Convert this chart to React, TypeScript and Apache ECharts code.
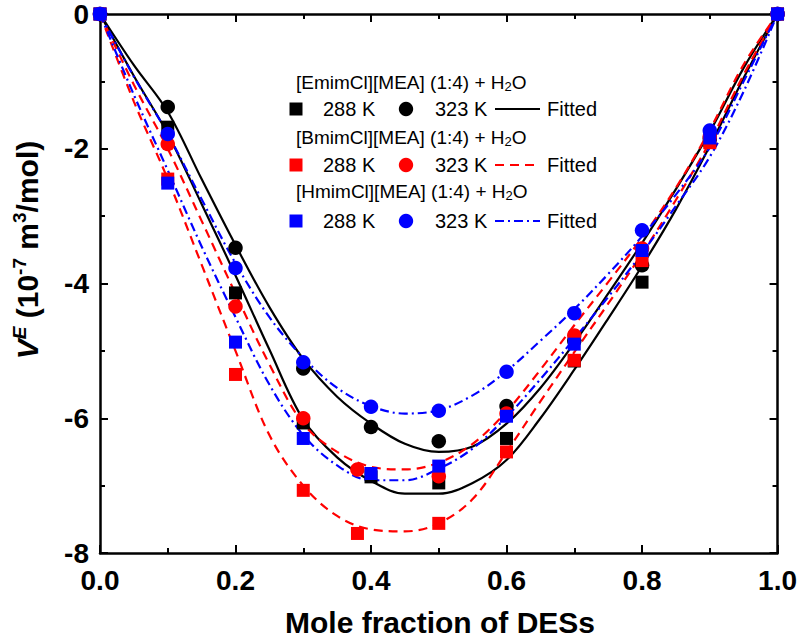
import React, { useEffect, useRef } from "react";
import * as echarts from "echarts";

// Grid of mole fractions used for the fitted curves
const FIT_X = [0, 0.05, 0.1, 0.15, 0.2, 0.25, 0.3, 0.35, 0.4, 0.45, 0.5, 0.55, 0.6, 0.65, 0.7, 0.75, 0.8, 0.85, 0.9, 0.95, 1];

// Fitted excess molar volume curves (10^-7 m3/mol)
const EMIM_FIT_288 = [0, -0.92, -1.78, -2.82, -3.88, -4.98, -6.02, -6.58, -6.93, -7.12, -7.12, -6.96, -6.62, -6.0, -5.28, -4.52, -3.74, -2.9, -1.96, -0.95, 0];
const EMIM_FIT_323 = [0, -0.76, -1.45, -2.45, -3.43, -4.35, -5.12, -5.68, -6.08, -6.38, -6.5, -6.42, -6.08, -5.55, -4.88, -4.15, -3.4, -2.6, -1.75, -0.8, 0];
const BMIM_FIT_288 = [0, -1.3, -2.45, -3.72, -5.0, -6.25, -7.0, -7.45, -7.65, -7.68, -7.56, -7.2, -6.5, -5.75, -5.02, -4.3, -3.56, -2.76, -1.9, -0.9, 0];
const BMIM_FIT_323 = [0, -1.05, -2.0, -3.07, -4.15, -5.2, -6.08, -6.5, -6.72, -6.76, -6.66, -6.38, -5.9, -5.28, -4.62, -3.98, -3.32, -2.58, -1.72, -0.75, 0];
const HMIM_FIT_288 = [0, -1.2, -2.32, -3.45, -4.5, -5.5, -6.25, -6.7, -6.92, -6.92, -6.75, -6.45, -5.98, -5.42, -4.82, -4.2, -3.55, -2.85, -2.12, -1.15, 0];
const HMIM_FIT_323 = [0, -0.93, -1.78, -2.75, -3.7, -4.5, -5.1, -5.55, -5.82, -5.93, -5.88, -5.66, -5.3, -4.85, -4.38, -3.86, -3.3, -2.68, -1.98, -1.0, 0];

// Measured points [mole fraction of DES, V^E]
const EMIM_288 = [[0, 0], [0.1, -1.68], [0.2, -4.14], [0.3, -6.07], [0.4, -6.87], [0.5, -6.96], [0.6, -6.3], [0.7, -5.15], [0.8, -3.98], [0.9, -1.88], [1, 0]];
const EMIM_323 = [[0, 0], [0.1, -1.38], [0.2, -3.47], [0.3, -5.26], [0.4, -6.13], [0.5, -6.34], [0.6, -5.82], [0.7, -4.85], [0.8, -3.73], [0.9, -1.85], [1, 0]];
const BMIM_288 = [[0, 0], [0.1, -2.45], [0.2, -5.35], [0.3, -7.07], [0.38, -7.71], [0.5, -7.56], [0.6, -6.5], [0.7, -5.14], [0.8, -3.66], [0.9, -1.91], [1, 0]];
const BMIM_323 = [[0, 0], [0.1, -1.93], [0.2, -4.34], [0.3, -6.0], [0.38, -6.76], [0.5, -6.86], [0.6, -5.93], [0.7, -4.77], [0.8, -3.48], [0.9, -1.82], [1, 0]];
const HMIM_288 = [[0, 0], [0.1, -2.51], [0.2, -4.87], [0.3, -6.3], [0.4, -6.82], [0.5, -6.71], [0.6, -5.97], [0.7, -4.9], [0.8, -3.51], [0.9, -1.84], [1, 0]];
const HMIM_323 = [[0, 0], [0.1, -1.78], [0.2, -3.77], [0.3, -5.17], [0.4, -5.83], [0.5, -5.89], [0.6, -5.31], [0.7, -4.44], [0.8, -3.21], [0.9, -1.73], [1, 0]];

// Legend text
const SYSTEM_LABELS = [
  "[EmimCl][MEA] (1:4) + H{sub|2}O",
  "[BmimCl][MEA] (1:4) + H{sub|2}O",
  "[HmimCl][MEA] (1:4) + H{sub|2}O",
];
const TEMP_LABELS = ["288 K", "323 K"];
const FIT_LABEL = "Fitted";

const BLACK = "#000000";
const RED = "#ff0000";
const BLUE = "#0000ff";
const FONT = "'Liberation Sans', Arial, Helvetica, sans-serif";

const SOLID: any = "solid";
const DASHED: any = [9, 6];
const DASH_DOT: any = [9, 4, 2, 4];

const STYLES = [
  { color: BLACK, dash: SOLID },
  { color: RED, dash: DASHED },
  { color: BLUE, dash: DASH_DOT },
];

function fitSeries(ys: number[], color: string, dash: any) {
  return {
    type: "line",
    data: FIT_X.map((x, i) => [x, ys[i]]),
    showSymbol: false,
    symbol: "none",
    smooth: 0.35,
    silent: true,
    z: 2,
    lineStyle: { color, width: 2.2, type: dash },
  };
}

function pointSeries(data: number[][], color: string, symbol: string) {
  return {
    type: "scatter",
    data,
    symbol,
    symbolSize: symbol === "rect" ? 13 : 14.5,
    silent: true,
    z: 3,
    itemStyle: { color, opacity: 1 },
  };
}

function legendGraphics() {
  const left = 296;
  const headerY = [82, 137, 191];
  const rowY = [109, 165, 221];
  const els: any[] = [];
  SYSTEM_LABELS.forEach((label, i) => {
    const st = STYLES[i];
    els.push({
      type: "text",
      x: left,
      y: headerY[i],
      style: {
        text: label,
        fill: BLACK,
        fontSize: 19,
        fontFamily: FONT,
        lineHeight: 22,
        align: "left",
        verticalAlign: "middle",
        textAlign: "left",
        textVerticalAlign: "middle",
        rich: { sub: { fontSize: 13, fontFamily: FONT, fill: BLACK, verticalAlign: "bottom", lineHeight: 22 } },
      },
    });
    const y = rowY[i];
    els.push({ type: "rect", shape: { x: left - 6.5, y: y - 6.5, width: 13, height: 13 }, style: { fill: st.color } });
    els.push({ type: "circle", shape: { cx: 406, cy: y, r: 7.2 }, style: { fill: st.color } });
    els.push({
      type: "line",
      shape: { x1: 495, y1: y, x2: 540, y2: y },
      style: { stroke: st.color, lineWidth: 2.2, lineDash: st.dash === SOLID ? null : st.dash },
    });
    const texts = [
      { x: 323, t: TEMP_LABELS[0] },
      { x: 435, t: TEMP_LABELS[1] },
      { x: 547, t: FIT_LABEL },
    ];
    texts.forEach((tt) => {
      els.push({
        type: "text",
        x: tt.x,
        y,
        style: {
          text: tt.t,
          fill: BLACK,
          fontSize: 20,
          fontFamily: FONT,
          align: "left",
          verticalAlign: "middle",
          textAlign: "left",
          textVerticalAlign: "middle",
        },
      });
    });
  });
  return els;
}

const axisCommon = {
  axisLine: { show: true, onZero: false, lineStyle: { color: BLACK, width: 2.5 } },
  axisTick: { show: true, inside: true, length: 8, lineStyle: { color: BLACK, width: 2 } },
  minorTick: { show: true, splitNumber: 2, length: 5, lineStyle: { color: BLACK, width: 2 } },
  splitLine: { show: false },
  minorSplitLine: { show: false },
};

const labelStyle = {
  color: BLACK,
  fontSize: 28,
  fontWeight: "bold" as const,
  fontFamily: FONT,
};

export default function App() {
  const ref = useRef<HTMLDivElement>(null);

  useEffect(() => {
    if (!ref.current) return;
    const chart = echarts.init(ref.current, null, { renderer: "svg" });
    const series: any[] = [
      fitSeries(EMIM_FIT_323, BLACK, SOLID),
      fitSeries(EMIM_FIT_288, BLACK, SOLID),
      fitSeries(BMIM_FIT_323, RED, DASHED),
      fitSeries(BMIM_FIT_288, RED, DASHED),
      fitSeries(HMIM_FIT_323, BLUE, DASH_DOT),
      fitSeries(HMIM_FIT_288, BLUE, DASH_DOT),
      pointSeries(EMIM_288, BLACK, "rect"),
      pointSeries(EMIM_323, BLACK, "circle"),
      pointSeries(BMIM_288, RED, "rect"),
      pointSeries(BMIM_323, RED, "circle"),
      pointSeries(HMIM_323, BLUE, "circle"),
      pointSeries(HMIM_288, BLUE, "rect"),
    ];
    chart.setOption({
      animation: false,
      backgroundColor: "#ffffff",
      grid: { left: 100, right: 20, top: 13, bottom: 87, containLabel: false },
      xAxis: [
        {
          type: "value",
          min: 0,
          max: 1,
          interval: 0.2,
          position: "bottom",
          ...axisCommon,
          axisLabel: {
            ...labelStyle,
            margin: 13,
            formatter: (v: number) => v.toFixed(1),
          },
        },
        {
          type: "value",
          min: 0,
          max: 1,
          interval: 0.2,
          position: "top",
          ...axisCommon,
          axisLabel: { show: false },
        },
      ],
      yAxis: [
        {
          type: "value",
          min: -8,
          max: 0,
          interval: 2,
          position: "left",
          ...axisCommon,
          axisLabel: { ...labelStyle, margin: 11 },
        },
        {
          type: "value",
          min: -8,
          max: 0,
          interval: 2,
          position: "right",
          ...axisCommon,
          axisLabel: { show: false },
        },
      ],
      series,
      graphic: [
        {
          type: "text",
          x: 440,
          y: 622,
          style: {
            text: "Mole fraction of DESs",
            fill: BLACK,
            fontSize: 30,
            fontWeight: "bold",
            fontFamily: FONT,
            lineHeight: 30,
            align: "center",
            verticalAlign: "middle",
            textAlign: "center",
            textVerticalAlign: "middle",
          },
        },
        {
          type: "text",
          x: 27,
          y: 250,
          rotation: Math.PI / 2,
          style: {
            text: "{v|V}{e|E} (10{s|-7} m{s|3}/mol)",
            fill: BLACK,
            fontSize: 30,
            fontWeight: "bold",
            fontFamily: FONT,
            lineHeight: 34,
            align: "center",
            verticalAlign: "middle",
            textAlign: "center",
            textVerticalAlign: "middle",
            rich: {
              v: { fontSize: 30, fontWeight: "bold", fontStyle: "italic", fontFamily: FONT, fill: BLACK, lineHeight: 34 },
              e: { fontSize: 19, fontWeight: "bold", fontStyle: "italic", fontFamily: FONT, fill: BLACK, verticalAlign: "top", lineHeight: 34 },
              s: { fontSize: 19, fontWeight: "bold", fontFamily: FONT, fill: BLACK, verticalAlign: "top", lineHeight: 34 },
            },
          },
        },
        ...legendGraphics(),
      ],
    });
    return () => chart.dispose();
  }, []);

  return (
    <div
      ref={ref}
      style={{ position: "fixed", left: 0, top: 0, width: 800, height: 640, background: "#fff" }}
    />
  );
}
